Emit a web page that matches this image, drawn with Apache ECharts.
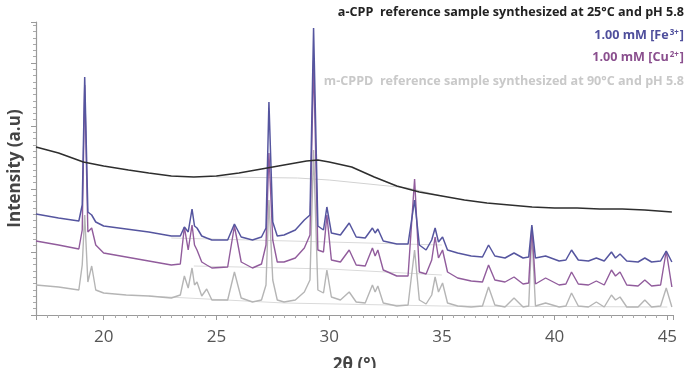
<!DOCTYPE html>
<html>
<head>
<meta charset="utf-8">
<script src="https://cdn.jsdelivr.net/npm/echarts@6/dist/echarts.min.js"></script>
<style>
html, body { margin: 0; padding: 0; background: #fff; }
#xrd { width: 688px; height: 368px; }
</style>
</head>
<body>
<div id="xrd"></div>
<script>
// 2theta positions shared by the three crystalline patterns
var angle = [17, 18, 18.9, 19.05, 19.16, 19.3, 19.47, 19.65, 20, 21,
	22, 23, 23.4, 23.58, 23.75, 23.92, 24.03, 24.14, 24.35, 24.57,
	24.8, 25.5, 25.8, 26.1, 26.6, 27, 27.2, 27.33, 27.5, 27.7,
	28, 28.5, 28.9, 29.15, 29.31, 29.5, 29.75, 29.9, 30.1, 30.5,
	30.89, 31.2, 31.6, 31.92, 32.04, 32.16, 32.4, 33, 33.5, 33.79,
	34, 34.3, 34.55, 34.7, 34.85, 35.03, 35.25, 35.7, 36.3, 36.8,
	37.07, 37.35, 37.8, 38.2, 38.6, 38.85, 38.99, 39.15, 39.6, 40.2,
	40.5, 40.75, 41.05, 41.5, 41.85, 42.2, 42.52, 42.7, 42.9, 43.2,
	43.7, 44, 44.3, 44.7, 44.95, 45.2];

var fe = [101, 97, 94, 110, 238, 103, 100, 93, 89, 86,
	83, 79, 79, 88, 83, 106, 89, 87, 79, 77,
	75, 75, 91, 78, 75, 78, 87, 213, 93, 79,
	80, 85, 95, 100, 287, 89, 85, 108, 82, 80,
	92, 78, 77, 87, 82, 86, 74, 71, 71, 115,
	70, 65, 75, 87, 73, 78, 65, 62, 59, 58,
	70, 59, 57, 62, 57, 58, 90, 57, 59, 54,
	55, 65, 55, 54, 57, 54, 63, 57, 61, 54,
	53, 57, 53, 54, 64, 53];

var cu = [74, 70, 66, 85, 230, 83, 87, 70, 62, 58,
	54, 50, 51, 88, 65, 90, 70, 65, 53, 50,
	47, 48, 89, 53, 47, 51, 70, 162, 75, 53,
	53, 57, 67, 80, 255, 65, 63, 100, 55, 53,
	65, 50, 49, 67, 59, 65, 45, 39, 39, 136,
	43, 41, 55, 78, 57, 65, 43, 37, 34, 33,
	50, 35, 33, 38, 31, 32, 88, 31, 37, 30,
	31, 43, 31, 30, 34, 30, 45, 39, 43, 30,
	29, 35, 29, 30, 64, 28];

var cppd = [30, 28, 25, 50, 100, 33, 49, 25, 22, 20,
	19, 17, 20, 39, 27, 47, 30, 33, 19, 26,
	15, 15, 43, 17, 13, 15, 30, 115, 35, 15,
	13, 15, 23, 35, 165, 25, 22, 45, 18, 15,
	23, 13, 12, 30, 23, 29, 12, 9, 10, 65,
	15, 11, 20, 38, 23, 32, 12, 9, 8, 9,
	28, 10, 8, 17, 8, 9, 82, 9, 12, 8,
	9, 22, 9, 8, 13, 8, 20, 15, 18, 8,
	8, 15, 8, 9, 27, 8];

// amorphous a-CPP hump
var acppAngle = [17, 18, 19.1, 20, 21.1, 22, 23, 24, 25, 26, 27, 28, 29, 29.5, 30,
	31, 32, 33, 34, 35, 36, 37, 38, 39, 40, 41, 42, 43, 44, 45.2];
var acpp = [168, 162, 153, 149, 145, 142, 139, 138, 139, 142, 146, 150, 154, 155, 153,
	148, 138, 129, 123, 119, 115, 112, 110, 108, 107, 107, 106, 106, 105, 103];

// faint background fits
var bgAcpp = [[25, 138], [28.6, 137], [30, 135], [33.5, 127], [35, 119]];
var bgFe = [[23, 77], [30, 73], [35, 70]];
var bgCu = [[24, 49], [30, 46], [35, 40]];
var bgCppd = [[22, 19], [28, 12], [35, 9], [45, 8]];

var labels = [
	{ text: '{t|a-CPP  reference sample synthesized at 25°C and pH 5.8}', color: '#222' },
	{ text: '{t|1.00 mM [Fe}{s|3+}{t|]}', color: '#4f4f9c' },
	{ text: '{t|1.00 mM [Cu}{s|2+}{t|]}', color: '#8a4f8e' },
	{ text: '{t|m-CPPD  reference sample synthesized at 90°C and pH 5.8}', color: '#c9c9c9' }
];
var labelTop = [6, 29, 51, 75];

function pairs(xs, ys) {
	var out = [];
	for (var i = 0; i < xs.length; i++) {
		out.push([xs[i], ys[i]]);
	}
	return out;
}

function lineSeries(name, d, color, w) {
	return {
		name: name,
		type: 'line',
		data: d,
		symbol: 'none',
		silent: true,
		lineStyle: { color: color, width: w },
		itemStyle: { color: color }
	};
}

var graphics = [];
for (var i = 0; i < labels.length; i++) {
	graphics.push({
		type: 'text',
		right: 4,
		top: labelTop[i],
		style: {
			text: labels[i].text,
			fill: labels[i].color,
			rich: {
				t: { fontFamily: 'Open Sans', fontWeight: 'bold', fontSize: 12.6, fill: labels[i].color },
				s: { fontFamily: 'Open Sans', fontWeight: 'bold', fontSize: 8, fill: labels[i].color, verticalAlign: 'top', padding: [0, 1, 5, 1] }
			}
		}
	});
}

var option = {
	animation: false,
	grid: { left: 36, right: 15, top: 22, bottom: 53, containLabel: false, outerBoundsMode: 'none' },
	xAxis: {
		type: 'value',
		min: 17,
		max: 45.25,
		name: '2θ (°)',
		nameLocation: 'middle',
		nameGap: 42,
		nameTextStyle: { fontFamily: 'Open Sans', fontWeight: 'bold', fontSize: 17, color: '#444' },
		axisLine: { lineStyle: { color: '#9a9a9a', width: 1.2 } },
		axisTick: { show: true, length: 5, lineStyle: { color: '#9a9a9a' } },
		minorTick: { show: true, splitNumber: 10, length: 3, lineStyle: { color: '#aaa' } },
		axisLabel: {
			showMinLabel: false,
			showMaxLabel: false,
			fontFamily: 'Open Sans',
			fontSize: 17,
			color: '#555',
			margin: 14
		},
		splitLine: { show: false }
	},
	yAxis: {
		type: 'value',
		min: 0,
		max: 293,
		interval: 63,
		name: 'Intensity (a.u)',
		nameLocation: 'middle',
		nameGap: 12,
		nameTextStyle: { fontFamily: 'Open Sans', fontWeight: 'bold', fontSize: 17, color: '#444' },
		axisLine: { show: true, lineStyle: { color: '#9a9a9a', width: 1.2 } },
		axisTick: { show: true, length: 5, lineStyle: { color: '#9a9a9a' } },
		minorTick: { show: true, splitNumber: 10, length: 3, lineStyle: { color: '#aaa' } },
		axisLabel: { show: false },
		splitLine: { show: false }
	},
	graphic: graphics,
	series: [
		lineSeries('bgCppd', bgCppd, '#dadada', 1),
		lineSeries('bgCu', bgCu, '#dadada', 1),
		lineSeries('bgFe', bgFe, '#dadada', 1),
		lineSeries('bgAcpp', bgAcpp, '#d2d2d2', 1),
		lineSeries('m-CPPD', pairs(angle, cppd), '#b5b5b5', 1.4),
		lineSeries('Cu', pairs(angle, cu), '#915c9c', 1.4),
		lineSeries('Fe', pairs(angle, fe), '#55559f', 1.5),
		lineSeries('a-CPP', pairs(acppAngle, acpp), '#2e2e2e', 1.6)
	]
};

var myChart = echarts.init(document.getElementById('xrd'));
myChart.setOption(option);
</script>
</body>
</html>
